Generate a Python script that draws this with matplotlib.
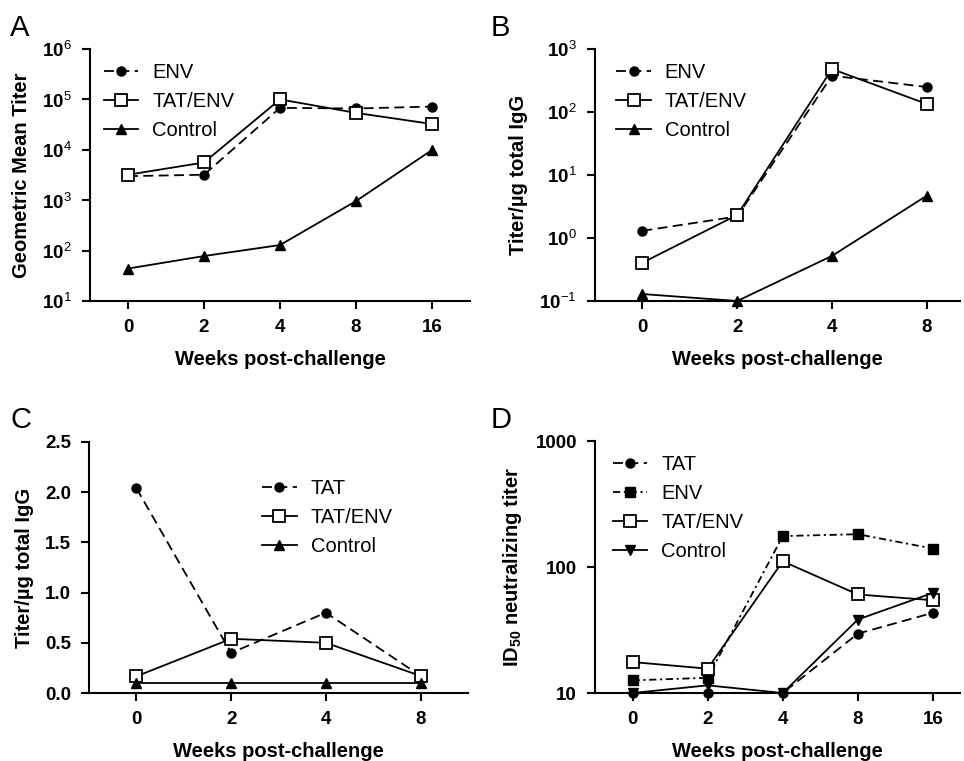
import numpy as np
import matplotlib.pyplot as plt
from matplotlib.ticker import FixedLocator, FixedFormatter, NullLocator

plt.rcParams['font.family'] = ['Liberation Sans', 'DejaVu Sans']
plt.rcParams['mathtext.fontset'] = 'custom'
plt.rcParams['mathtext.rm'] = 'Liberation Sans'
plt.rcParams['mathtext.bf'] = 'Liberation Sans:bold'

# %% data
weeks_5 = ['0', '2', '4', '8', '16']
weeks_4 = ['0', '2', '4', '8']

a_env = [3000, 3200, 68000, 66000, 72000]
a_tatenv = [3200, 5600, 100000, 54000, 32500]
a_control = [44, 78, 129, 960, 9900]

b_env = [1.3, 2.2, 377, 249]
b_tatenv = [0.405, 2.32, 481, 134]
b_control = [0.129, 0.1, 0.52, 4.7]

c_tat = [2.04, 0.40, 0.80, 0.17]
c_tatenv = [0.166, 0.54, 0.50, 0.17]
c_control = [0.1, 0.1, 0.1, 0.1]

d_tat = [10, 10, 10, 29.6, 43.3]
d_env = [12.6, 13.2, 176, 182, 140]
d_tatenv = [17.6, 15.6, 111, 60.5, 54.5]
d_control = [10, 11.5, 10, 38.3, 62.4]


# %%
def style(kind):
    st = dict(color='black', lw=1.3, clip_on=False, zorder=3)
    if kind == 'circle':
        st.update(marker='o', ms=6.5, ls=(0, (5.5, 3)))
    elif kind == 'fsquare':
        st.update(marker='s', ms=7.5, ls=(0, (4, 2, 1.2, 2)))
    elif kind == 'osquare':
        st.update(marker='s', ms=9, mfc='white', mew=1.3, ls='-')
    elif kind == 'tri':
        st.update(marker='^', ms=7, ls='-')
    elif kind == 'dtri':
        st.update(marker='v', ms=7, ls='-')
    return st


def setup(ax, labels, xmax, ylabel):
    for s in ['top', 'right']:
        ax.spines[s].set_visible(False)
    for s in ['left', 'bottom']:
        ax.spines[s].set_linewidth(1.5)
    ax.set_xlim(-0.5, xmax)
    ax.set_xticks(range(len(labels)))
    ax.set_xticklabels(labels)
    ax.tick_params(width=1.5, length=6, labelsize=13.5, pad=7)
    for t in ax.get_xticklabels() + ax.get_yticklabels():
        t.set_fontweight('bold')
    ax.set_xlabel('Weeks post-challenge', fontsize=14.5, fontweight='bold', labelpad=10)
    ax.set_ylabel(ylabel, fontsize=14.5, fontweight='bold', labelpad=8)


def log_ticks(ax, exps):
    ax.set_yscale('log')
    ax.set_ylim(10.0 ** exps[0], 10.0 ** exps[-1])
    ax.yaxis.set_major_locator(FixedLocator([10.0 ** e for e in exps]))
    ax.yaxis.set_major_formatter(FixedFormatter([r'$\mathbf{10}^{%d}$' % e for e in exps]))
    ax.yaxis.set_minor_locator(NullLocator())


fig = plt.figure(figsize=(9.64, 7.61), dpi=100)
W, H = 964, 761


def add_axes(l, r, t, b):
    return fig.add_axes([l / W, (H - b) / H, (r - l) / W, (b - t) / H])


axA = add_axes(90, 470, 49, 301)
axB = add_axes(595, 960, 49, 301)
axC = add_axes(89, 468, 442, 693)
axD = add_axes(595, 960, 441, 693)

# A
x5 = np.arange(5)
axA.plot(x5, a_env, label='ENV', **style('circle'))
axA.plot(x5, a_tatenv, label='TAT/ENV', **style('osquare'))
axA.plot(x5, a_control, label='Control', **style('tri'))
log_ticks(axA, [1, 2, 3, 4, 5, 6])
setup(axA, weeks_5, 4.5, 'Geometric Mean Titer')

# B
x4 = np.arange(4)
axB.plot(x4, b_env, label='ENV', **style('circle'))
axB.plot(x4, b_tatenv, label='TAT/ENV', **style('osquare'))
axB.plot(x4, b_control, label='Control', **style('tri'))
log_ticks(axB, [-1, 0, 1, 2, 3])
setup(axB, weeks_4, 3.35, 'Titer/\u00b5g total IgG')

# C
axC.plot(x4, c_tat, label='TAT', **style('circle'))
axC.plot(x4, c_tatenv, label='TAT/ENV', **style('osquare'))
axC.plot(x4, c_control, label='Control', **style('tri'))
axC.set_ylim(0, 2.5)
axC.set_yticks([0, 0.5, 1.0, 1.5, 2.0, 2.5])
axC.set_yticklabels(['0.0', '0.5', '1.0', '1.5', '2.0', '2.5'])
setup(axC, weeks_4, 3.5, 'Titer/\u00b5g total IgG')

# D
axD.plot(x5, d_tat, label='TAT', **style('circle'))
axD.plot(x5, d_env, label='ENV', **style('fsquare'))
axD.plot(x5, d_tatenv, label='TAT/ENV', **style('osquare'))
axD.plot(x5, d_control, label='Control', **style('dtri'))
axD.set_yscale('log')
axD.set_ylim(10, 1000)
axD.yaxis.set_major_locator(FixedLocator([10, 100, 1000]))
axD.yaxis.set_major_formatter(FixedFormatter(['10', '100', '1000']))
axD.yaxis.set_minor_locator(NullLocator())
setup(axD, weeks_5, 4.36, r'ID$_{\mathbf{50}}$ neutralizing titer')

leg_kw = dict(frameon=False, fontsize=14.5, handlelength=1.7, handletextpad=0.7,
              labelspacing=0.5, borderaxespad=0.3)
axA.legend(loc='upper left', bbox_to_anchor=(0.0, 1.0), **leg_kw)
axB.legend(loc='upper left', bbox_to_anchor=(0.02, 1.0), **leg_kw)
axC.legend(loc='upper left', bbox_to_anchor=(0.42, 0.91), **leg_kw)
axD.legend(loc='upper left', bbox_to_anchor=(0.01, 1.0), **leg_kw)

for lab, x, y in [('A', 10, 28), ('B', 491, 28), ('C', 10, 420), ('D', 491, 420)]:
    fig.text(x / W, 1 - y / H, lab, fontsize=21, va='center', ha='left')

fig.savefig('out.png', dpi=100)
